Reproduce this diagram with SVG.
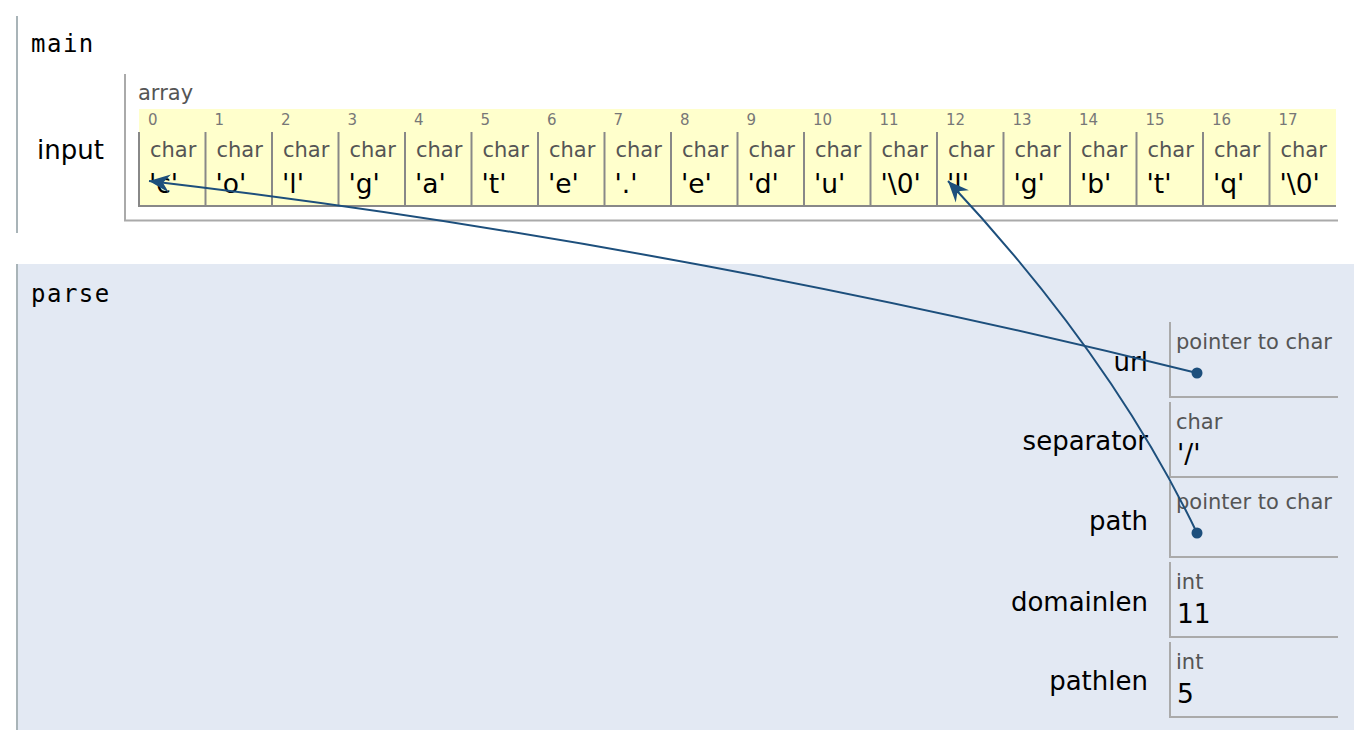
<svg xmlns="http://www.w3.org/2000/svg" width="1368" height="754" viewBox="0 0 1368 754">
<style>
.frame-name{font-family:"DejaVu Sans Mono",monospace;font-size:24px;letter-spacing:1.5px;fill:#000}
.lbl{font-family:"DejaVu Sans",Verdana,sans-serif;font-size:26px;fill:#000;text-anchor:end}
.typ{font-family:"DejaVu Sans",Verdana,sans-serif;font-size:21px;fill:#555}
.val{font-family:"DejaVu Sans",Verdana,sans-serif;font-size:26.5px;fill:#000}
.idx{font-family:"DejaVu Sans",Verdana,sans-serif;font-size:15px;fill:#777}
.fborder{stroke:#a9b4b8;stroke-width:2;fill:none}
.box{stroke:#aaa;stroke-width:2;fill:none}
.cellline{stroke:#888;stroke-width:2;fill:none}
.conn{stroke:#1d4f7c;stroke-width:2;fill:none}
.dot{fill:#1d4f7c}
</style>
<defs>
<marker id="arrow" markerUnits="userSpaceOnUse" viewBox="-23 -11 24 22" markerWidth="24" markerHeight="22" refX="0" refY="0" orient="auto">
<path d="M0,0 L-21,-9 L-14,0 L-21,9 Z" fill="#1d4f7c"/>
</marker>
</defs>
<rect width="1368" height="754" fill="#fff"/>

<g id="frame-main">
<line class="fborder" x1="17" y1="16" x2="17" y2="233"/>
<text class="frame-name" x="31" y="52">main</text>
</g>

<g id="var-input">
<text class="lbl" x="104" y="159">input</text>
<line class="box" x1="125" y1="74" x2="125" y2="221"/>
<line class="box" x1="124" y1="220.5" x2="1338" y2="220.5"/>
<text class="typ" x="138" y="100">array</text>
<rect x="139" y="109" width="1197" height="98" fill="#ffffcc"/>
<g id="cells">
<line class="cellline" x1="139" y1="206" x2="1336" y2="206"/>
<g class="cellline">
<line x1="139" y1="132" x2="139" y2="207"/>
<line x1="205.5" y1="132" x2="205.5" y2="207"/>
<line x1="272" y1="132" x2="272" y2="207"/>
<line x1="338.5" y1="132" x2="338.5" y2="207"/>
<line x1="405" y1="132" x2="405" y2="207"/>
<line x1="471.5" y1="132" x2="471.5" y2="207"/>
<line x1="538" y1="132" x2="538" y2="207"/>
<line x1="604.5" y1="132" x2="604.5" y2="207"/>
<line x1="671" y1="132" x2="671" y2="207"/>
<line x1="737.5" y1="132" x2="737.5" y2="207"/>
<line x1="804" y1="132" x2="804" y2="207"/>
<line x1="870.5" y1="132" x2="870.5" y2="207"/>
<line x1="937" y1="132" x2="937" y2="207"/>
<line x1="1003.5" y1="132" x2="1003.5" y2="207"/>
<line x1="1070" y1="132" x2="1070" y2="207"/>
<line x1="1136.5" y1="132" x2="1136.5" y2="207"/>
<line x1="1203" y1="132" x2="1203" y2="207"/>
<line x1="1269.5" y1="132" x2="1269.5" y2="207"/>
</g>
<g class="idx">
<text x="148" y="125">0</text><text x="214.5" y="125">1</text><text x="281" y="125">2</text><text x="347.5" y="125">3</text><text x="414" y="125">4</text><text x="480.5" y="125">5</text><text x="547" y="125">6</text><text x="613.5" y="125">7</text><text x="680" y="125">8</text><text x="746.5" y="125">9</text><text x="813" y="125">10</text><text x="879.5" y="125">11</text><text x="946" y="125">12</text><text x="1012.5" y="125">13</text><text x="1079" y="125">14</text><text x="1145.5" y="125">15</text><text x="1212" y="125">16</text><text x="1278.5" y="125">17</text>
</g>
<g class="typ">
<text x="150" y="157">char</text><text x="216.5" y="157">char</text><text x="283" y="157">char</text><text x="349.5" y="157">char</text><text x="416" y="157">char</text><text x="482.5" y="157">char</text><text x="549" y="157">char</text><text x="615.5" y="157">char</text><text x="682" y="157">char</text><text x="748.5" y="157">char</text><text x="815" y="157">char</text><text x="881.5" y="157">char</text><text x="948" y="157">char</text><text x="1014.5" y="157">char</text><text x="1081" y="157">char</text><text x="1147.5" y="157">char</text><text x="1214" y="157">char</text><text x="1280.5" y="157">char</text>
</g>
<g class="val">
<text x="149" y="193">'c'</text><text x="215.5" y="193">'o'</text><text x="282" y="193">'l'</text><text x="348.5" y="193">'g'</text><text x="415" y="193">'a'</text><text x="481.5" y="193">'t'</text><text x="548" y="193">'e'</text><text x="614.5" y="193">'.'</text><text x="681" y="193">'e'</text><text x="747.5" y="193">'d'</text><text x="814" y="193">'u'</text><text x="880.5" y="193">'\0'</text><text x="947" y="193">'l'</text><text x="1013.5" y="193">'g'</text><text x="1080" y="193">'b'</text><text x="1146.5" y="193">'t'</text><text x="1213" y="193">'q'</text><text x="1279.5" y="193">'\0'</text>
</g>
</g>
</g>

<g id="frame-parse">
<rect x="16" y="264" width="1338" height="466" fill="#e3e9f3"/>
<line class="fborder" x1="17" y1="264" x2="17" y2="730"/>
<text class="frame-name" x="31" y="302">parse</text>
</g>

<g id="var-url">
<text class="lbl" x="1148" y="371">url</text>
<path class="box" d="M1170,322 V397 H1338"/>
<text class="typ" x="1176" y="349">pointer to char</text>
</g>
<g id="var-separator">
<text class="lbl" x="1148" y="450">separator</text>
<path class="box" d="M1170,402 V477 H1338"/>
<text class="typ" x="1176" y="429">char</text>
<text class="val" x="1177" y="463">'/'</text>
</g>
<g id="var-path">
<text class="lbl" x="1148" y="530">path</text>
<path class="box" d="M1170,482 V557 H1338"/>
<text class="typ" x="1176" y="509">pointer to char</text>
</g>
<g id="var-domainlen">
<text class="lbl" x="1148" y="611">domainlen</text>
<path class="box" d="M1170,562 V637 H1338"/>
<text class="typ" x="1176" y="589">int</text>
<text class="val" x="1177" y="623">11</text>
</g>
<g id="var-pathlen">
<text class="lbl" x="1148" y="690">pathlen</text>
<path class="box" d="M1170,642 V717 H1338"/>
<text class="typ" x="1176" y="669">int</text>
<text class="val" x="1177" y="703">5</text>
</g>

<g id="connectors">
<path class="conn" d="M1197,373 Q673,242.7 149,181" marker-end="url(#arrow)"/>
<circle class="dot" cx="1197" cy="373" r="5.5"/>
<path class="conn" d="M1197,533 Q1112.6,357 948,181" marker-end="url(#arrow)"/>
<circle class="dot" cx="1197" cy="533" r="5.5"/>
</g>
</svg>
